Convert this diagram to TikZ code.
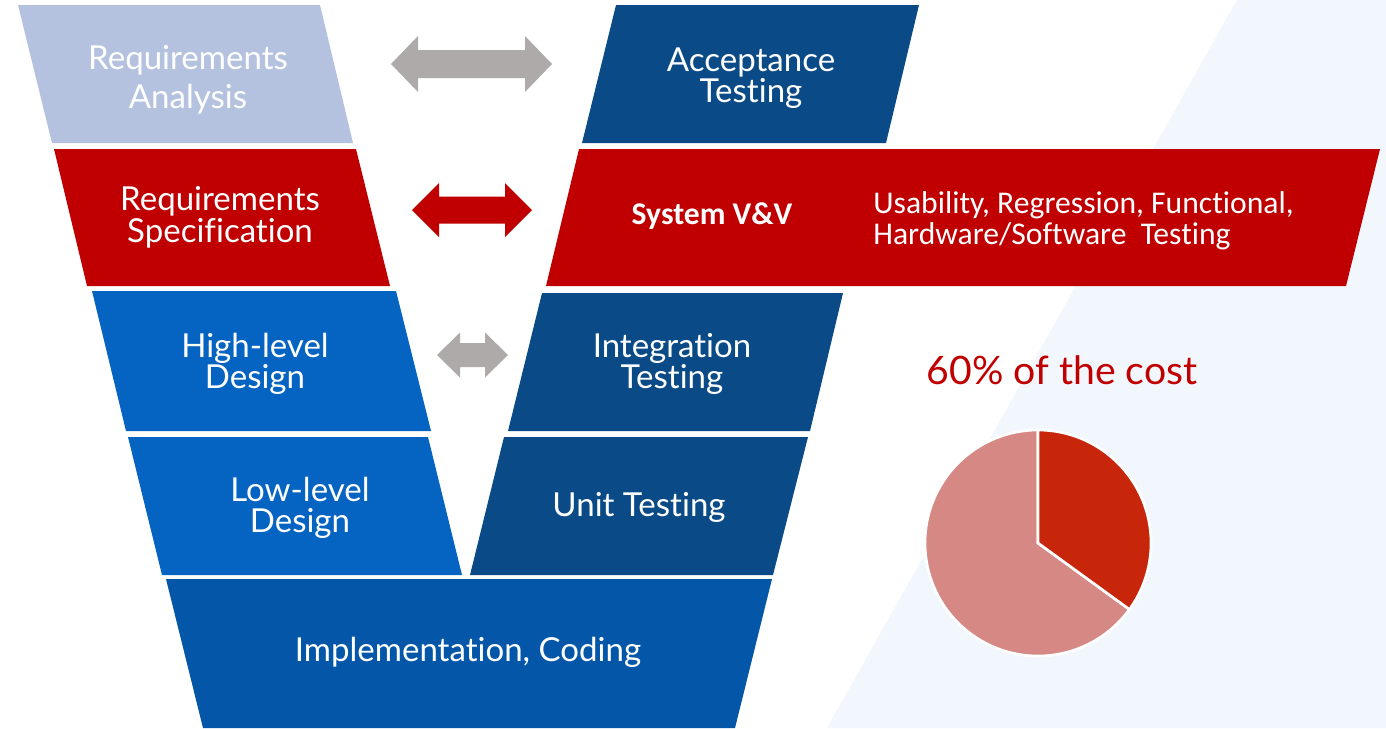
\documentclass[tikz,border=0pt]{standalone}
\usepackage{fontspec}
\setmainfont{Lato}[Ligatures=NoCommon]
\newfontfamily\calibrifont{Carlito}[Ligatures=NoCommon]
\definecolor{lightblue}{HTML}{B4C2E0}
\definecolor{darkblue}{HTML}{0A4B87}
\definecolor{midblue}{HTML}{0563C1}
\definecolor{codeblue}{HTML}{0457A8}
\definecolor{vvred}{HTML}{C00000}
\definecolor{arrowgrey}{HTML}{AEAAAA}
\definecolor{pielight}{HTML}{D68984}
\definecolor{piedark}{HTML}{C8260A}
\definecolor{bgblue}{HTML}{F2F7FD}
\begin{document}
\begin{tikzpicture}[x=0.02cm, y=-0.02cm,
	every node/.style={text=white, inner sep=0pt, align=center, font=\fontsize{18.8}{18}\selectfont},
	slice/.style={fill=#1, draw=white, line width=1.5pt}]
	\useasboundingbox (0,0) rectangle (1386,728);
	\fill[white] (0,0) rectangle (1386,728);
	\fill[bgblue] (1237,0) -- (1386,0) -- (1386,728) -- (827,728) -- cycle;
	
	% the V: top left, top right, bottom right, bottom left
	\foreach \xa/\xb/\xc/\xd/\ya/\yb/\col in {
		18/320/353/52/5/143/lightblue, 616/919/886/582/5/143/darkblue,
		54/356/390/87/149/286/vvred, 579/1380/1346/546/149/286/vvred,
		92/396/431/126/291/431/midblue, 542/843/810/508/293/431/darkblue,
		128/428/462/162/437/575/midblue, 504/808/773/470/437/575/darkblue,
		166/772/735/203/579/728/codeblue}
	{
		\fill[\col] (\xa,\ya) -- (\xb,\ya) -- (\xc,\yb) -- (\xd,\yb) -- cycle;
	}
	
	% double arrows: left tip, right tip, middle, head length, head and shaft half width
	\foreach \l/\r/\m/\h/\hw/\sw/\col in {
		391/552/64/27/28/14/arrowgrey,
		412/532/210/27/27/13.5/vvred,
		437/508/355/23/22.5/12/arrowgrey}
	{
		\fill[\col] (\l,\m) -- (\l+\h,\m-\hw) -- (\l+\h,\m-\sw) -- (\r-\h,\m-\sw) -- (\r-\h,\m-\hw)
			-- (\r,\m) -- (\r-\h,\m+\hw) -- (\r-\h,\m+\sw) -- (\l+\h,\m+\sw) -- (\l+\h,\m+\hw) -- cycle;
	}
	
	\node[font=\fontsize{18.8}{22}\selectfont] (reqana) at (188,80) {Requirements\\Analysis};
	\node (acctest) at (751,78) {Acceptance\\Testing};
	\node (reqspec) at (220,217) {Requirements\\Specification};
	\node[font=\calibrifont\bfseries\fontsize{18}{18}\selectfont] (sysvv) at (712,216) {System V\&V};
	\node[anchor=west, align=left, font=\calibrifont\fontsize{18}{17.6}\selectfont] (kinds) at (873,221)
		{Usability, Regression, Functional,\\Hardware/Software~ Testing};
	\node (hldesign) at (255,364) {High-level\\Design};
	\node (inttest) at (672,364) {Integration\\Testing};
	\node (lldesign) at (300,508) {Low-level\\Design};
	\node (unittest) at (639,507) {Unit Testing};
	\node (coding) at (468,652) {Implementation, Coding};
	\node[text=vvred, font=\fontsize{22.3}{22}\selectfont] (cost) at (1062,370) {60\% of the cost};
	
	% pie
	\coordinate (pc) at (1038,543);
	\filldraw[slice=pielight] (pc) -- ++(36:113) arc[start angle=36, end angle=270, radius=113] -- cycle;
	\filldraw[slice=piedark] (pc) -- ++(-90:113) arc[start angle=-90, end angle=36, radius=113] -- cycle;
\end{tikzpicture}
\end{document}
